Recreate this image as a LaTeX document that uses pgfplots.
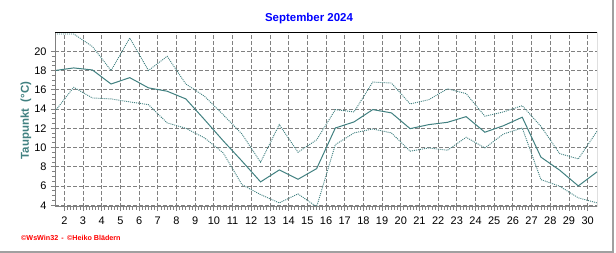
\documentclass[border=0pt]{standalone}
\usepackage{fontspec}
\setmainfont{Liberation Sans}
\usepackage{pgfplots}
\pgfplotsset{compat=1.18}
\definecolor{wsteal}{RGB}{64,128,128}
\definecolor{gridgray}{RGB}{128,128,128}
\definecolor{framegray}{RGB}{160,160,160}
\begin{document}
\begin{tikzpicture}
\path[use as bounding box] (0bp,0bp) rectangle (616bp,253bp);
\begin{axis}[
  at={(55bp,46bp)}, anchor=south west,
  scale only axis, width=542bp, height=174bp,
  xmin=1.5, xmax=30.5, ymin=3.82, ymax=21.9,
  xtick={2,...,30}, ytick={4,6,...,20},
  minor x tick num=5, minor y tick num=3,
  grid=major,
  major grid style={gridgray, dash pattern=on 4bp off 2bp, line width=0.8bp},
  axis line style={draw=none},
  tick align=outside, xtick pos=bottom, ytick pos=left,
  major tick length=4bp, minor tick length=3bp,
  tick style={gridgray, line width=0.8bp},
  ticklabel style={font=\fontsize{11}{13}\selectfont},
  /pgf/number format/assume math mode=true,
  xticklabel style={yshift=-2bp},
  yticklabel style={xshift=-1bp},
]
\addplot[wsteal, line width=1bp] coordinates {
(1.5,18.0) (2.5,18.27) (3.5,18.06) (4.5,16.6) (5.5,17.26) (6.5,16.2) (7.5,15.85) (8.5,15.05) (9.5,12.9) (10.5,10.7)
(11.5,8.6) (12.5,6.43) (13.5,7.67) (14.5,6.7) (15.5,7.81) (16.5,12.03) (17.5,12.66) (18.5,13.94) (19.5,13.6) (20.5,11.96)
(21.5,12.38) (22.5,12.62) (23.5,13.21) (24.5,11.59) (25.5,12.27) (26.5,13.15) (27.5,9.0) (28.5,7.65) (29.5,6.01) (30.5,7.47)
};
\addplot[wsteal, line width=0.9bp, dash pattern=on 1bp off 1bp] coordinates {
(1.5,21.8) (2.5,21.8) (3.5,20.5) (4.5,18.0) (5.5,21.38) (6.5,18.0) (7.5,19.48) (8.5,16.6) (9.5,15.33) (10.5,13.4)
(11.5,11.41) (12.5,8.47) (13.5,12.38) (14.5,9.51) (15.5,10.8) (16.5,13.94) (17.5,13.7) (18.5,16.8) (19.5,16.7) (20.5,14.53)
(21.5,14.97) (22.5,16.1) (23.5,15.6) (24.5,13.25) (25.5,13.7) (26.5,14.35) (27.5,12.2) (28.5,9.37) (29.5,8.82) (30.5,11.69)
};
\addplot[wsteal, line width=0.9bp, dash pattern=on 1bp off 1bp] coordinates {
(1.5,13.77) (2.5,16.26) (3.5,15.15) (4.5,15.05) (5.5,14.74) (6.5,14.46) (7.5,12.56) (8.5,12.0) (9.5,11.0) (10.5,9.44)
(11.5,6.15) (12.5,5.11) (13.5,4.25) (14.5,5.18) (15.5,3.85) (16.5,10.3) (17.5,11.52) (18.5,11.93) (19.5,11.52) (20.5,9.62)
(21.5,9.96) (22.5,9.72) (23.5,11.07) (24.5,9.96) (25.5,11.41) (26.5,12.03) (27.5,6.67) (28.5,5.98) (29.5,4.77) (30.5,4.25)
};
\draw[black, line width=1bp] (rel axis cs:0,1) -- (rel axis cs:1,1) -- (rel axis cs:1,0);
\draw[gridgray, line width=2bp] (rel axis cs:0,1) -- (rel axis cs:0,0) -- (rel axis cs:1,0);
\end{axis}
\node[font=\bfseries\fontsize{11.5}{13}\selectfont, text=blue] at (309bp,234bp) {September 2024};
\node[rotate=90, font=\bfseries\fontsize{11.5}{13}\selectfont, text=wsteal] at (26bp,132.5bp) {Taupunkt\ \ (°C)};
\node[anchor=west, inner sep=0pt, text=red, font=\bfseries\fontsize{7.2}{8.5}\selectfont] at (21bp,15bp) {©WsWin32 \,-\, ©Heiko Blädern};
\draw[framegray, line width=2bp] (0bp,1bp) -- (613bp,1bp) -- (613bp,253bp);
\end{tikzpicture}
\end{document}
